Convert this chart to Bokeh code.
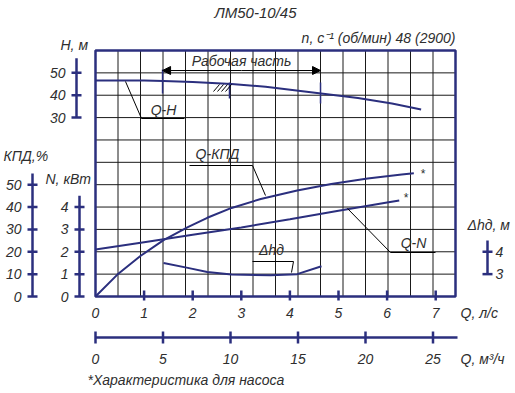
from bokeh.plotting import figure
from bokeh.models import Range1d, Arrow, NormalHead
from bokeh.core.properties import value
from bokeh.embed import file_html
from bokeh.resources import INLINE

# ---------------- data ----------------
Q_H = [0.0, 0.5, 1.0, 1.4, 2.0, 2.8, 3.5, 4.6, 5.4, 6.1, 6.7]           # l/s
H = [46.6, 46.6, 46.6, 46.4, 45.9, 45.0, 43.8, 40.9, 38.8, 36.3, 33.6]    # m

Q_EFF = [0.0, 0.45, 0.93, 1.4, 1.9, 2.3, 2.8, 3.4, 4.15, 4.85, 5.6, 6.3, 6.55]
EFF = [0.0, 9.8, 18.2, 25.2, 31.0, 35.2, 39.6, 43.6, 47.4, 50.3, 52.8, 54.6, 55.1]  # %

Q_N = [0.0, 1.0, 2.0, 3.0, 4.0, 5.0, 6.0, 6.25]
N = [2.10, 2.43, 2.76, 3.09, 3.45, 3.83, 4.20, 4.29]                      # kW

Q_DH = [1.4, 1.9, 2.3, 2.8, 3.6, 4.15, 4.65]
DH = [3.5, 3.28, 3.1, 2.98, 2.95, 3.0, 3.35]                              # m

Q_WORK = [1.38, 4.63]   # working range, l/s

Q_LS_TICKS = [0, 1, 2, 3, 4, 5, 6, 7]
Q_M3H_TICKS = [0, 5, 10, 15, 20, 25]
H_TICKS = [30, 40, 50]
EFF_TICKS = [0, 10, 20, 30, 40, 50]
N_TICKS = [0, 1, 2, 3, 4]
DH_TICKS = [3, 4]

TITLE = "ЛМ50-10/45"
SUBTITLE = "n, с⁻¹ (об/мин) 48 (2900)"
FOOTNOTE = "*Характеристика для насоса"

# ---------------- layout ----------------
W, HT = 515, 393
OFF = 0
X0, X1 = 95, 455          # page px of Q=0 and right edge of grid
Y0, Y1 = 296, 50          # page px of grid bottom / top
NCOLS, NROWS = 16, 11
QMAX = NCOLS * (5 / 3) / 3.6   # grid column = 5/3 m3/h
SX = (X1 - X0) / QMAX
SY = (Y0 - Y1) / NROWS

def ax(X):
    return (X - X0) / SX

def ay(Y):
    return (Y0 - Y) / SY

q_lo, q_hi = ax(OFF), ax(OFF + W)
g_lo, g_hi = ay(OFF + HT), ay(OFF)

NAVY = "#2b2f7e"
INK = "#2e2e2e"
FONT = "Liberation Sans"

p = figure(width=W, height=HT, x_range=Range1d(q_lo, q_hi), y_range=Range1d(g_lo, g_hi),
           output_backend="svg", toolbar_location=None, min_border=0,
           x_axis_location=None, y_axis_location=None, outline_line_color=None)
p.grid.visible = False

# scales: H: 30 m on row 8, 10 m/row; EFF: 10 %/row; N: 1 kW/row; DH: 3 m on row 1
def h_of(g):
    return H_TICKS[0] + (g - 8) * 10

p.extra_y_ranges = {
    "H": Range1d(h_of(g_lo), h_of(g_hi)),
    "eff": Range1d(10 * g_lo, 10 * g_hi),
    "dh": Range1d(g_lo + 2, g_hi + 2),
}
p.extra_x_ranges = {"m3h": Range1d(3.6 * q_lo, 3.6 * q_hi)}

def txt(xs, ys, texts, size="14px", align="center", **kw):
    p.text(x=xs, y=ys, text=texts, text_font=value(FONT), text_font_style="italic",
           text_font_size=size, text_align=align, text_baseline="middle", text_color=INK, **kw)

# ---------------- grid ----------------
vx = [QMAX * i / NCOLS for i in range(1, NCOLS)]
p.segment(x0=vx, y0=0, x1=vx, y1=NROWS, line_color="#1a1a1a", line_width=1)
hy = list(range(1, NROWS))
p.segment(x0=0, y0=hy, x1=QMAX, y1=hy, line_color="#1a1a1a", line_width=1)

# ---------------- curves ----------------
p.line(Q_H, H, y_range_name="H", line_color=NAVY, line_width=2)
p.line(Q_EFF, EFF, y_range_name="eff", line_color=NAVY, line_width=2)
p.line(Q_N, N, line_color=NAVY, line_width=2)
p.line(Q_DH, DH, y_range_name="dh", line_color=NAVY, line_width=2)

# frame
p.quad(left=0, right=QMAX, bottom=0, top=NROWS, fill_color=None, line_color=NAVY, line_width=2.5)

# ---------------- vertical axes ----------------
def vaxis(X, ticks, rname, ext, side="left"):
    step = ticks[1] - ticks[0]
    kw = {} if rname is None else {"y_range_name": rname}
    p.segment(x0=ax(X), y0=ticks[0], x1=ax(X), y1=ticks[-1] + ext * step,
              line_color=NAVY, line_width=2.5, **kw)
    p.segment(x0=ax(X - 5), y0=ticks, x1=ax(X + 5), y1=ticks, line_color=NAVY, line_width=2.5, **kw)
    if side == "left":
        txt([ax(X - 11)] * len(ticks), ticks, [str(t) for t in ticks], align="right", **kw)
    else:
        txt([ax(X + 8)] * len(ticks), ticks, [str(t) for t in ticks], align="left", **kw)

vaxis(32, EFF_TICKS, "eff", 0.5)
vaxis(79, N_TICKS, None, 0.5)
vaxis(76, H_TICKS, "H", 0.65)
vaxis(487, DH_TICKS, "dh", 0.5, side="right")

txt([ax(60)], [ay(44)], ["H, м"], align="left")
txt([ax(3)], [ay(155)], ["КПД,%"], align="left")
txt([ax(45)], [ay(178)], ["N, кВт"], align="left")
txt([ax(467)], [ay(224)], ["Δhд, м"], align="left")

# ---------------- bottom axes ----------------
qt = Q_LS_TICKS[1:]
p.segment(x0=qt, y0=ay(300), x1=qt, y1=ay(290), line_color=NAVY, line_width=2.5)
txt(Q_LS_TICKS, [ay(312)] * len(Q_LS_TICKS), [str(t) for t in Q_LS_TICKS])
txt([ax(460)], [ay(312)], ["Q, л/с"], align="left")

p.segment(x0=Q_M3H_TICKS[0], y0=ay(337), x1=3.6 * ax(457), y1=ay(337),
          line_color=NAVY, line_width=2.5, x_range_name="m3h")
p.segment(x0=Q_M3H_TICKS, y0=ay(343), x1=Q_M3H_TICKS, y1=ay(331),
          line_color=NAVY, line_width=2.5, x_range_name="m3h")
txt(Q_M3H_TICKS, [ay(358)] * len(Q_M3H_TICKS), [str(t) for t in Q_M3H_TICKS], x_range_name="m3h")
txt([ax(460)], [ay(358)], ["Q, м³/ч"], align="left")

txt([ax(87)], [ay(379)], [FOOTNOTE], align="left")

# ---------------- titles ----------------
txt([ax(255)], [ay(12)], [TITLE], size="15px")
txt([ax(455)], [ay(37)], [SUBTITLE], align="right")

# ---------------- working range ----------------
ydim = ay(70)
xm = (Q_WORK[0] + Q_WORK[1]) / 2
for xe in Q_WORK:
    p.add_layout(Arrow(start=None, end=NormalHead(size=8, fill_color="black", line_color="black"),
                       x_start=xm, y_start=ydim, x_end=xe, y_end=ydim,
                       line_color="black", line_width=1))
p.segment(x0=Q_WORK, y0=[ay(69), ay(82)], x1=Q_WORK, y1=[ay(93), ay(103)],
          line_color=NAVY, line_width=1.5)
txt([ax(241)], [ay(60)], ["Рабочая часть"])

# hatch mark
p.segment(x0=[ax(229)], y0=[ay(82)], x1=[ax(229)], y1=[ay(98)], line_color=NAVY, line_width=1.5)
hx = [213, 217, 221, 225]
p.segment(x0=[ax(v) for v in hx], y0=[ay(91)] * 4, x1=[ax(v + 6) for v in hx], y1=[ay(84)] * 4,
          line_color="black", line_width=1)

# ---------------- leaders & curve labels ----------------
def leader(pts):
    p.line([ax(a) for a, b in pts], [ay(b) for a, b in pts], line_color="black", line_width=1)

leader([(125, 81), (141, 118), (184, 118)])
leader([(189, 165), (252, 165), (265, 195)])
leader([(347, 208), (390, 252), (435, 252)])
leader([(252, 261), (293, 261), (291, 272)])

txt([ax(163)], [ay(109)], ["Q-H"])
txt([ax(217)], [ay(153)], ["Q-КПД"])
txt([ax(413)], [ay(242)], ["Q-N"])
txt([ax(271)], [ay(249)], ["Δhд"])
txt([ax(422), ax(405)], [ay(173), ay(197)], ["*", "*"], size="12px")

open("out.html", "w").write(file_html(p, INLINE))
